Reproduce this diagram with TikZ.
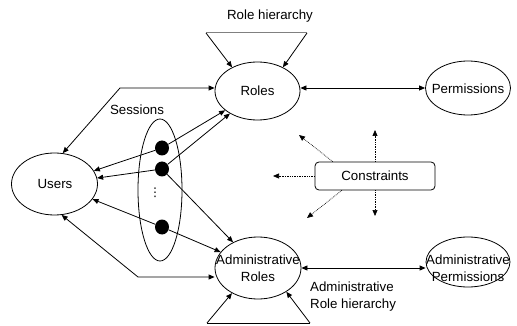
\documentclass[tikz,border=0pt]{standalone}
\usepackage{fontspec}
\setmainfont{Liberation Sans}
\newfontfamily\symfont{DejaVu Sans}
\usetikzlibrary{shapes.geometric,arrows.meta,calc}
\begin{document}
\begin{tikzpicture}[x=1pt,y=-1pt,
  txt/.style={font=\fontsize{13.3}{17}\selectfont,inner sep=0pt,align=center},
  ell/.style={draw,ellipse,inner sep=0pt,line width=0.8pt},
  sdot/.style={ellipse,fill=black,inner sep=0pt,minimum width=14pt,minimum height=15pt},
  conn/.style={line width=0.8pt,-{Triangle[length=6pt,width=5pt]}},
  biconn/.style={line width=0.8pt,{Triangle[length=6pt,width=5pt]}-{Triangle[length=6pt,width=5pt]}},
  dconn/.style={densely dotted,line width=0.7pt,-{Triangle[length=6pt,width=5pt]}},
]
\useasboundingbox (0,0) rectangle (517,326);

% ellipses
\node[ell,minimum width=85pt,minimum height=58pt] (roles) at (257.5,91) {};
\node[ell,minimum width=85pt,minimum height=54pt] (perm) at (468,88) {};
\node[ell,minimum width=86pt,minimum height=62pt] (users) at (54.5,184) {};
\node[ell,minimum width=44pt,minimum height=142pt] (sess) at (160,190) {};
\node[ell,minimum width=86pt,minimum height=62pt] (aroles) at (258,268) {};
\node[ell,minimum width=84pt,minimum height=50pt] (aperm) at (468,262) {};

% texts
\node[txt] (trh) at (270,16) {Role hierarchy};
\node[txt] (tsess) at (137,110) {Sessions};
\node[txt] (troles) at (257.5,91) {Roles};
\node[txt] (tperm) at (468,89) {Permissions};
\node[txt] (tusers) at (55,184) {Users};
\node[txt] (taroles) at (258,268) {Administrative\\Roles};
\node[txt] (taperm) at (468,268.5) {Administrative\\Permissions};
\node[txt,anchor=west,align=left] (tarh) at (310,296.5) {Administrative\\Role hierarchy};

% session dots
\node[sdot] (d1) at (162,148) {};
\node[sdot] (d2) at (162,169) {};
\node[sdot] (d3) at (162,227) {};
\node[font=\symfont\fontsize{12}{12}\selectfont,inner sep=0pt] (vd) at (155,193) {⋮};

% constraints
\node[draw,rounded corners=4pt,minimum width=120pt,minimum height=28pt,line width=0.8pt,txt] (cons) at (375,176) {Constraints};

% role hierarchy trapezoid
\coordinate (rhl) at (206,33);
\coordinate (rhr) at (307,33);
\draw[gray,line width=1pt] (rhl) -- (rhr);
\draw[conn] (rhl) -- (roles.137);
\draw[conn] (rhr) -- (roles.43);

% admin role hierarchy trapezoid
\coordinate (arhl) at (207,323);
\coordinate (arhr) at (310,323);
\draw[line width=0.8pt] (arhl) -- (arhr);
\draw[conn] (arhl) -- (aroles.224);
\draw[conn] (arhr) -- (aroles.320);

% users - roles
\coordinate (ua) at (120,88);
\draw[biconn] (users.75) -- (ua) -- (ua -| roles.west);
\coordinate (ub) at (138,277);
\draw[biconn] (users.283) -- (ub) -- (ub -| aroles.west);

% roles - permissions
\draw[biconn] (roles.east |- perm.west) -- (perm.west);
\draw[biconn] (aroles.east) -- (aroles.east -| aperm.west);

% sessions
\draw[conn] (d1) -- (users);
\draw[conn] (d1) -- (roles);
\draw[conn] (d2) -- (users);
\draw[conn] (d2) -- (roles);
\draw[conn] (d2) -- (aroles);
\draw[conn] (d3) -- (users);
\draw[conn] (d3) -- (aroles);

% constraints arrows
\coordinate (cu) at (375,130);
\coordinate (cd) at (375,216);
\coordinate (cl) at (273,176);
\coordinate (cul) at (299,135);
\coordinate (cdl) at (307,218);
\draw[dconn] (cons.north) -- (cu);
\draw[dconn] (cons.south) -- (cd);
\draw[dconn] (cons.west) -- (cl);
\draw[dconn] ($(cons.north west)!0.15!(cons.north east)$) -- (cul);
\draw[dconn] ($(cons.south west)!0.225!(cons.south east)$) -- (cdl);
\end{tikzpicture}
\end{document}
